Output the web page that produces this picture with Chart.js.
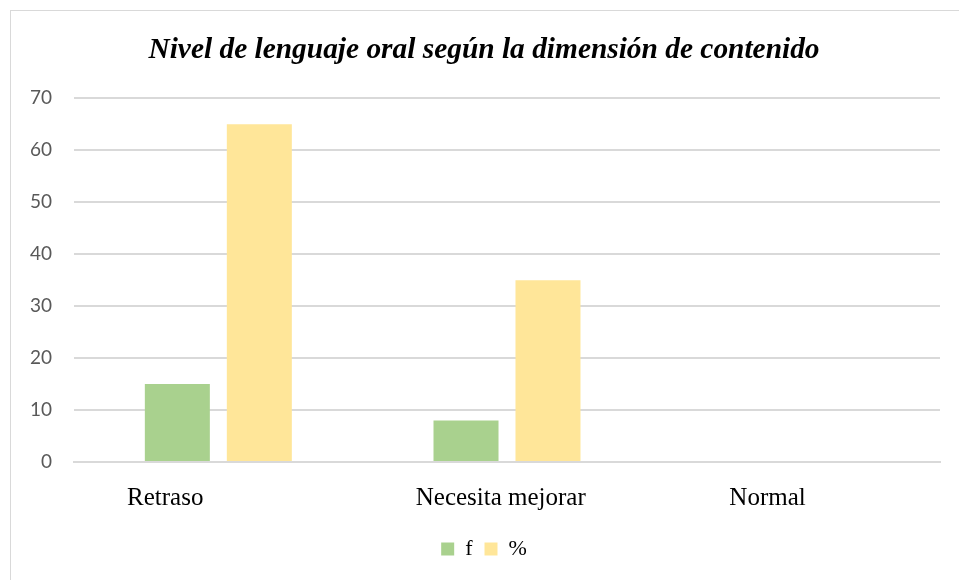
<!DOCTYPE html>
<html>
<head>
<meta charset="utf-8">
<script src="https://cdn.jsdelivr.net/npm/chart.js@4"></script>
<style>
    body { margin: 0; background: #fff; overflow: hidden; }
    #marco { position: absolute; left: 10px; top: 10px; width: 1000px; height: 1000px; border: 1px solid #d9d9d9; }
    #grafico { position: absolute; left: 0; top: 0; }
</style>
</head>
<body>
<div id="marco"></div>
<canvas id="grafico" width="959" height="580"></canvas>
<script>
// las etiquetas originales traen espacios al final
const categorias = ['Retraso                 ', 'Necesita mejorar  ', 'Normal         '];
const valoresF = [15, 8, 0];
const valoresPct = [65, 35, 0];
const titulo = 'Nivel de lenguaje oral según la dimensión de contenido';

const ctx = document.getElementById('grafico').getContext('2d');
new Chart(ctx, {
    type: 'bar',
    data: {
        labels: categorias,
        datasets: [
            { label: 'f', data: valoresF, backgroundColor: '#a9d18e' },
            { label: '%', data: valoresPct, backgroundColor: '#ffe699' }
        ]
    },
    options: {
        responsive: false,
        animation: false,
        categoryPercentage: 0.568,
        barPercentage: 0.793,
        layout: { padding: { top: 22, right: 19, bottom: 10, left: 28 } },
        plugins: {
            title: {
                display: true,
                text: titulo,
                color: '#000',
                font: { family: 'Liberation Serif', size: 29.4, weight: 'bold', style: 'italic' },
                padding: { top: 11, bottom: 30 }
            },
            legend: {
                position: 'bottom',
                labels: {
                    color: '#000',
                    boxWidth: 13,
                    boxHeight: 13,
                    padding: 12,
                    font: { family: 'Liberation Serif', size: 22 }
                }
            },
            tooltip: { enabled: false }
        },
        scales: {
            x: {
                grid: { display: false, drawTicks: false },
                border: { color: '#d9d9d9', width: 2 },
                ticks: { color: '#000', padding: 21, font: { family: 'Liberation Serif', size: 25 } },
                afterFit: s => { s.height = 64; }
            },
            y: {
                min: 0,
                max: 70,
                ticks: { stepSize: 10, color: '#595959', padding: 22, font: { family: 'Lato', size: 19 } },
                grid: { color: '#d9d9d9', lineWidth: 2, drawTicks: false },
                border: { display: false },
                afterFit: s => { s.width = 46; }
            }
        }
    }
});
</script>
</body>
</html>
